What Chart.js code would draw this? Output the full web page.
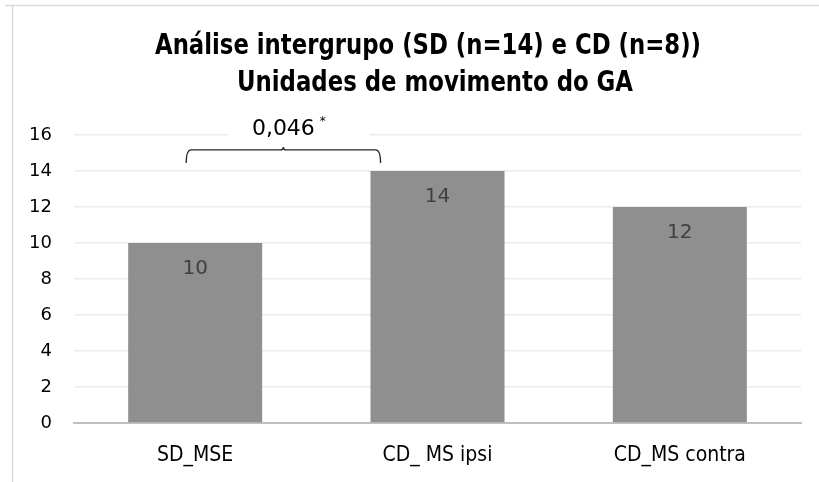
<!DOCTYPE html>
<html>
<head>
<meta charset="utf-8">
<script src="https://cdn.jsdelivr.net/npm/chart.js@4/dist/chart.umd.min.js"></script>
<style>
  html, body { margin: 0; padding: 0; background: #ffffff; }
  #wrap { width: 819px; height: 482px; position: relative; }
</style>
</head>
<body>
<div id="wrap"><canvas id="c" width="819" height="482"></canvas></div>
<script>
const categories = ['SD_MSE', 'CD_ MS ipsi', 'CD_MS contra'];
const values = [10, 14, 12];
const yTicks = [0, 2, 4, 6, 8, 10, 12, 14, 16];
const titleLines = ['Análise intergrupo (SD (n=14) e CD (n=8))', 'Unidades de movimento do GA'];
// significance bracket between group 0 and group 1 (data units)
const bracketLabel = '0,046';
const bracketMark = '*';
const bracketFrom = -0.037;
const bracketTo = 0.765;
const bracketLevel = 15.17;
const bracketDrop = 14.45;
const bracketTextLevel = 16.4;

const frame = {
  id: 'frame',
  beforeDraw(chart) {
    const ctx = chart.ctx;
    ctx.save();
    ctx.strokeStyle = '#d9d9d9';
    ctx.lineWidth = 1.5;
    ctx.beginPath();
    ctx.moveTo(5, 5.5); ctx.lineTo(819, 5.5);
    ctx.moveTo(12.5, 5); ctx.lineTo(12.5, 482);
    ctx.stroke();
    ctx.restore();
  }
};

const titleDraw = {
  id: 'titleDraw',
  afterDraw(chart) {
    const ctx = chart.ctx;
    ctx.save();
    ctx.fillStyle = '#000000';
    ctx.font = 'bold 29px "DejaVu Sans Condensed", "DejaVu Sans"';
    ctx.textAlign = 'center';
    ctx.textBaseline = 'alphabetic';
    const centers = [428, 435];
    const widths = [546, 396];
    const baselines = [54, 91];
    titleLines.forEach((t, i) => ctx.fillText(t, centers[i], baselines[i], widths[i]));
    ctx.restore();
  }
};

const barLabels = {
  id: 'barLabels',
  afterDatasetsDraw(chart) {
    const ctx = chart.ctx;
    const meta = chart.getDatasetMeta(0);
    ctx.save();
    ctx.fillStyle = '#404040';
    ctx.font = '20px "DejaVu Sans"';
    ctx.textAlign = 'center';
    ctx.textBaseline = 'middle';
    meta.data.forEach((bar, i) => {
      ctx.fillText(String(values[i]), bar.x, bar.y + 26);
    });
    ctx.restore();
  }
};

const bracket = {
  id: 'bracket',
  afterDraw(chart) {
    const ctx = chart.ctx;
    const xs = chart.scales.x, ys = chart.scales.y;
    const x1 = xs.getPixelForValue(bracketFrom);
    const x2 = xs.getPixelForValue(bracketTo);
    const xm = (x1 + x2) / 2;
    const y = ys.getPixelForValue(bracketLevel);
    const yd = ys.getPixelForValue(bracketDrop);
    const yt = ys.getPixelForValue(bracketTextLevel);
    ctx.save();
    ctx.font = '22px "DejaVu Sans"';
    const w = ctx.measureText(bracketLabel).width;
    ctx.fillStyle = '#ffffff';
    ctx.fillRect(xm - 55, yt - 14, 141, 24);
    ctx.fillStyle = '#000000';
    ctx.textAlign = 'center';
    ctx.textBaseline = 'middle';
    ctx.fillText(bracketLabel, xm, yt + 1);
    ctx.font = '12px "DejaVu Sans"';
    ctx.textAlign = 'left';
    ctx.fillText(bracketMark, xm + w / 2 + 5, yt - 6);
    ctx.strokeStyle = '#262626';
    ctx.lineWidth = 1.3;
    ctx.beginPath();
    ctx.moveTo(x1, yd);
    ctx.quadraticCurveTo(x1, y, x1 + 5, y);
    ctx.lineTo(xm - 3, y);
    ctx.quadraticCurveTo(xm, y, xm, y - 3);
    ctx.quadraticCurveTo(xm, y, xm + 3, y);
    ctx.lineTo(x2 - 5, y);
    ctx.quadraticCurveTo(x2, y, x2, yd);
    ctx.stroke();
    ctx.restore();
  }
};

new Chart(document.getElementById('c'), {
  type: 'bar',
  data: {
    labels: categories,
    datasets: [{
      data: values,
      backgroundColor: '#8f8f8f',
      borderWidth: 0,
      barPercentage: 0.553,
      categoryPercentage: 1.0
    }]
  },
  options: {
    responsive: false,
    animation: false,
    devicePixelRatio: 1,
    layout: { padding: { left: 0, right: 18, top: 135, bottom: 0 } },
    plugins: {
      legend: { display: false },
      tooltip: { enabled: false },
      title: { display: false }
    },
    scales: {
      x: {
        grid: { display: false, drawTicks: false },
        border: { display: true, color: '#bfbfbf', width: 2 },
        ticks: {
          color: '#000000',
          padding: 20,
          font: { family: '"DejaVu Sans Condensed"', size: 21 }
        },
        afterFit(s) { s.height = 59; }
      },
      y: {
        min: 0,
        max: 16,
        afterBuildTicks(s) { s.ticks = yTicks.map(v => ({ value: v })); },
        grid: { color: '#ebebeb', lineWidth: 1.5, drawTicks: false },
        border: { display: false },
        ticks: {
          color: '#000000',
          padding: 22,
          font: { family: '"DejaVu Sans"', size: 18 }
        },
        afterFit(s) { s.width = 74; }
      }
    }
  },
  plugins: [frame, titleDraw, barLabels, bracket]
});
</script>
</body>
</html>
